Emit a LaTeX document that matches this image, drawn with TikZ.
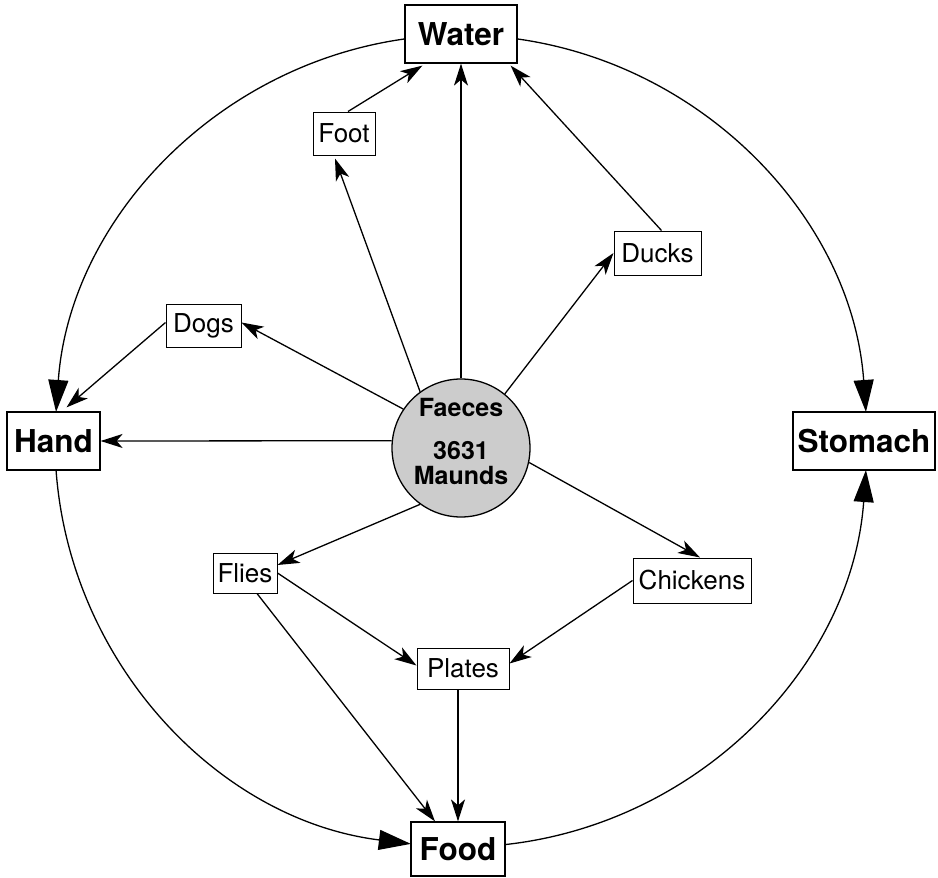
\documentclass[tikz,border=0pt]{standalone}
\usepackage{fontspec}
\setmainfont{TeX Gyre Heros}
\usetikzlibrary{arrows.meta,calc}
\begin{document}
\begin{tikzpicture}[x=1pt,y=-1pt,
  bigbox/.style={draw, line width=1.2pt, inner sep=0pt, minimum height=58pt,
    font=\fontsize{31.5}{33}\selectfont\bfseries},
  smallbox/.style={draw, line width=1pt, inner sep=0pt,
    font=\fontsize{26}{28}\selectfont},
  arr/.style={line width=1.3pt, -{Stealth[length=22pt,width=14pt,inset=6pt]}},
  arcarr/.style={line width=1.3pt, -{Triangle[length=32pt,width=20pt]}},
]
\useasboundingbox (0,0) rectangle (938,878);
\coordinate (C) at (461,441);

% main boxes
\node[bigbox, minimum width=112pt] (water) at (461,34) {Water};
\node[bigbox, minimum width=93pt] (hand) at (53.5,441) {Hand};
\node[bigbox, minimum width=142pt] (stomach) at (864,441) {Stomach};
\node[bigbox, minimum width=94pt, minimum height=54pt] (food) at (458,849) {Food};

% small boxes
\node[smallbox, minimum width=62pt, minimum height=43pt] (foot) at (344,133.5) {Foot};
\node[smallbox, minimum width=87pt, minimum height=44pt] (ducks) at (657.5,253) {Ducks};
\node[smallbox, minimum width=75pt, minimum height=43pt] (dogs) at (203.5,325.5) {Dogs};
\node[smallbox, minimum width=64pt, minimum height=40pt] (flies) at (245,573) {Flies};
\node[smallbox, minimum width=118pt, minimum height=45pt] (chickens) at (692,580.5) {Chickens};
\node[smallbox, minimum width=92pt, minimum height=41pt] (plates) at (463,668.5) {Plates};

% faeces
\node[circle, draw, line width=1.3pt, fill=black!20, minimum size=138pt, inner sep=0pt]
  (faeces) at (461,448) {};
\node[align=center, inner sep=0pt, font=\fontsize{25}{25}\selectfont\bfseries]
  (faecestext) at (461,441) {Faeces\\[18pt]3631\\Maunds};

% big circle arcs
\draw[arcarr] ($(C)+(97.9:406pt)$) arc[start angle=97.9, end angle=175.9, radius=406pt];
\draw[arcarr] ($(C)+(184.1:406pt)$) arc[start angle=184.1, end angle=262.9, radius=406pt];
\draw[arcarr] ($(C)+(276.2:406pt)$) arc[start angle=276.2, end angle=355.9, radius=406pt];
\draw[arcarr] ($(C)+(82.1:406pt)$) arc[start angle=82.1, end angle=4.1, radius=406pt];

% straight connectors
\draw[arr] (faeces.north) -- (water.south);
\draw[arr] (faeces.126) -- ([xshift=-9pt,yshift=-3pt]foot.south);
\draw[arr] ([xshift=4pt]foot.north) -- ([xshift=18pt,yshift=-2pt]water.south west);
\draw[arr] (faeces.51) -- (ducks.west);
\draw[arr] ([xshift=4pt]ducks.north) -- ([xshift=-7pt,yshift=-2pt]water.south east);
\draw[arr] (faeces.146.5) -- ([yshift=3pt]dogs.east);
\draw[arr] ([yshift=3pt]dogs.west) -- ([xshift=13pt,yshift=4pt]hand.north);
\draw[arr] (faeces.174) -- (hand.east);
\draw[arr] (faeces.234) -- ([yshift=8pt]flies.east);
\draw[arr] (faeces.-12) -- ([xshift=8pt]chickens.north);
\draw[arr] (flies.east) -- ([yshift=3pt]plates.west);
\draw[arr] (chickens.west) -- ([yshift=5pt]plates.east);
\draw[arr] ([xshift=12pt]flies.south) -- ([xshift=-23pt]food.north);
\draw[arr] ([xshift=-5pt]plates.south) -- (food.north);
\end{tikzpicture}
\end{document}
